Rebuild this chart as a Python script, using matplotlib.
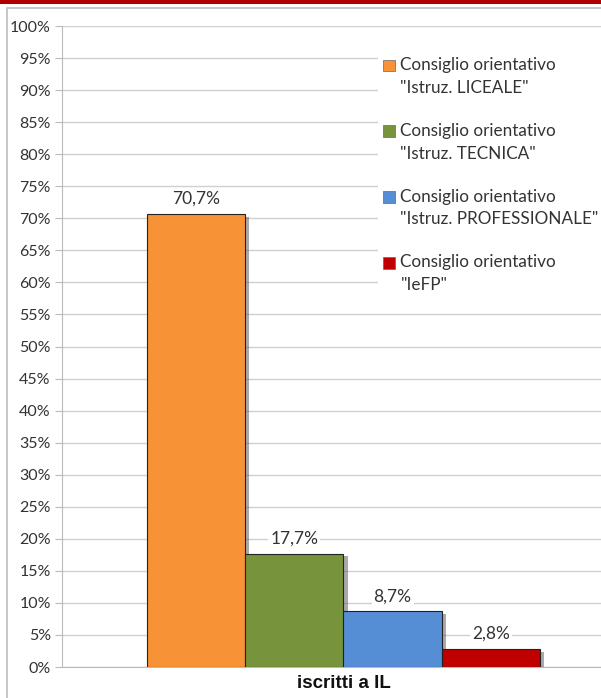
import matplotlib
matplotlib.use('Agg')
import matplotlib.pyplot as plt
import matplotlib.patheffects as pe
from matplotlib.patches import Rectangle
from matplotlib.legend_handler import HandlerPatch
from matplotlib.ticker import MultipleLocator, FuncFormatter

categories = [
    'Consiglio orientativo\n"Istruz. LICEALE"',
    'Consiglio orientativo\n"Istruz. TECNICA"',
    'Consiglio orientativo\n"Istruz. PROFESSIONALE"',
    'Consiglio orientativo\n"IeFP"',
]
values = [70.7, 17.7, 8.7, 2.8]
colors = ['#F79237', '#77933C', '#558ED5', '#C00000']
group_label = 'iscritti a IL'

plt.rcParams['font.family'] = ['Lato', 'DejaVu Sans']

fig = plt.figure(figsize=(6.01, 6.98), dpi=100)
ax = fig.add_axes([0.103, 0.0444, 0.897, 0.9183])

# outer frame and red band on top
fig.patches.append(Rectangle((0.012, -0.01), 1.0, 0.998, transform=fig.transFigure,
                             fill=False, edgecolor='#BDBDBD', linewidth=1.2))
fig.patches.append(Rectangle((0, 0.994), 1, 0.006, transform=fig.transFigure,
                             facecolor='#B00000', edgecolor='none'))

positions = [i - (len(values) - 1) / 2 for i in range(len(values))]
bars = ax.bar(positions, values, width=1.0, color=colors, edgecolor='#222222',
              linewidth=0.8, zorder=3)
for b in bars:
    b.set_path_effects([pe.SimplePatchShadow(offset=(3, -2), shadow_rgbFace='#555555', alpha=0.5),
                        pe.Normal()])

for p, v in zip(positions, values):
    ax.annotate(f'{v:.1f}%'.replace('.', ','), (p, v), xytext=(0, 5),
                textcoords='offset points', ha='center', va='bottom',
                fontsize=12.5, color='#333333', zorder=4,
                bbox=dict(facecolor='white', edgecolor='none', pad=1.5))

ax.set_xlim(-2.867, 2.622)
ax.set_ylim(0, 100)
ax.yaxis.set_major_locator(MultipleLocator(5))
ax.yaxis.set_major_formatter(FuncFormatter(lambda y, _: f'{y:.0f}%'))
ax.grid(axis='y', color='#D0D0D0', linewidth=1.0, zorder=0)
ax.set_axisbelow(True)
ax.set_xticks([0])
ax.set_xticklabels([group_label], fontsize=13.5, fontweight='bold',
                   family='Liberation Sans', color='#111111')
ax.tick_params(axis='x', length=0, pad=6)
ax.tick_params(axis='y', length=5, color='#BBBBBB', labelsize=11.5, labelcolor='#333333', pad=3)
for s in ['top', 'right']:
    ax.spines[s].set_visible(False)
ax.spines['left'].set_color('#BBBBBB')
ax.spines['bottom'].set_color('#BBBBBB')


# legend square sits next to the first line of each two-line label
def top_square(legend, orig_handle, xdescent, ydescent, width, height, fontsize):
    return Rectangle((-xdescent, -ydescent + height - width + 2.5), width, width)


proxies = [Rectangle((0, 0), 1, 1, facecolor=c, edgecolor='#666666', linewidth=0.5) for c in colors]
leg = ax.legend(proxies, categories, loc='upper left', bbox_to_anchor=(0.571, 0.973),
                frameon=True, fontsize=12.3, handlelength=0.7, handleheight=2.25,
                handletextpad=0.3, labelspacing=1.58, borderpad=0.3,
                handler_map={Rectangle: HandlerPatch(patch_func=top_square)})
leg.get_frame().set_facecolor('white')
leg.get_frame().set_edgecolor('none')
leg.get_frame().set_alpha(1)
for t in leg.get_texts():
    t.set_linespacing(1.52)
    t.set_color('#333333')

fig.savefig('out.png', dpi=100)
